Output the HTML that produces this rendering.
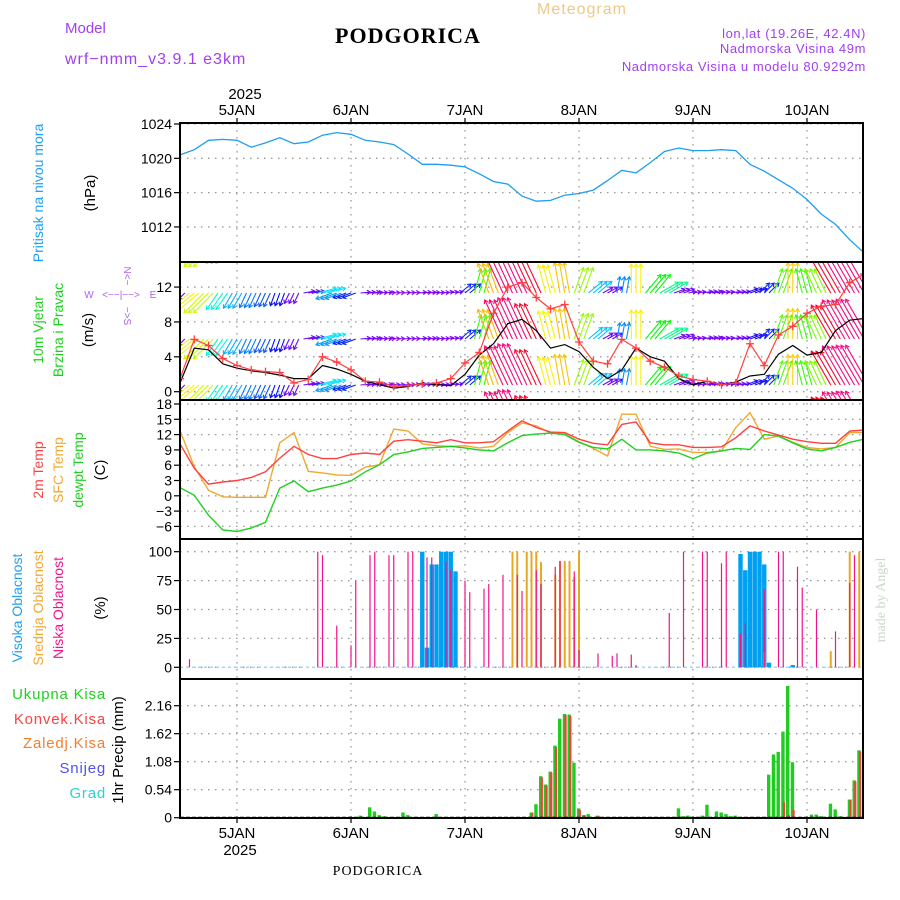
<!DOCTYPE html>
<html><head><meta charset="utf-8"><style>
html,body{margin:0;padding:0;background:#fff;}
svg{display:block;font-family:"Liberation Sans",sans-serif;}
</style></head><body>
<svg id="chart" width="900" height="900" viewBox="0 0 900 900" xmlns="http://www.w3.org/2000/svg">
<defs>
<clipPath id="cw"><rect x="180" y="263" width="683" height="136"/></clipPath>
<clipPath id="cp"><rect x="180" y="678" width="684" height="140"/></clipPath>
</defs>
<g>
<text x="65" y="33" font-size="15" fill="#a040f0">Model</text>
<text x="65" y="64" font-size="16" fill="#a040f0" letter-spacing="1">wrf−nmm_v3.9.1  e3km</text>
<text x="408" y="43" font-size="22" font-weight="bold" font-family="Liberation Serif,serif" text-anchor="middle" letter-spacing="1">PODGORICA</text>
<text x="582" y="14" font-size="16" fill="#f0c888" text-anchor="middle" letter-spacing="1">Meteogram</text>
<text x="866" y="38" font-size="13" fill="#a040f0" text-anchor="end" letter-spacing="0.6">lon,lat (19.26E, 42.4N)</text>
<text x="866" y="53" font-size="13" fill="#a040f0" text-anchor="end" letter-spacing="0.6">Nadmorska Visina 49m</text>
<text x="866" y="71" font-size="13" fill="#a040f0" text-anchor="end" letter-spacing="0.6">Nadmorska Visina u modelu 80.9292m</text>
<text x="245" y="99" font-size="15" text-anchor="middle">2025</text>
<text x="378" y="875" font-size="14" font-family="Liberation Serif,serif" text-anchor="middle" letter-spacing="1">PODGORICA</text>
<text x="240" y="855" font-size="15" text-anchor="middle">2025</text>
<text transform="translate(885,600) rotate(-90)" font-size="14" fill="#c8d8c8" font-family="Liberation Serif,serif" text-anchor="middle">made by Angel</text>
</g>
<g>
<text transform="translate(43,193) rotate(-90)" font-size="14" fill="#20a0f0" text-anchor="middle">Pritisak  na  nivou  mora</text>
<text transform="translate(95,193) rotate(-90)" font-size="15" text-anchor="middle">(hPa)</text>
<text transform="translate(43,330) rotate(-90)" font-size="14" fill="#20d020" text-anchor="middle">10m  Vjetar</text>
<text transform="translate(63,330) rotate(-90)" font-size="14" fill="#20d020" text-anchor="middle">Brzina  i  Pravac</text>
<text transform="translate(93,330) rotate(-90)" font-size="15" text-anchor="middle">(m/s)</text>
<g font-size="10" fill="#b060f0" text-anchor="middle">
<text x="89" y="298">W</text><text x="153" y="298">E</text>
<text x="121" y="298">&lt;−−|−−&gt;</text>
<text transform="translate(124,276) rotate(90)">N&lt;−</text>
<text transform="translate(124,316) rotate(90)">−&gt;S</text>
</g>
<text transform="translate(43,470) rotate(-90)" font-size="14" fill="#ff4040" text-anchor="middle">2m  Temp</text>
<text transform="translate(63,470) rotate(-90)" font-size="14" fill="#f0a830" text-anchor="middle">SFC  Temp</text>
<text transform="translate(83,470) rotate(-90)" font-size="14" fill="#20d020" text-anchor="middle">dewpt  Temp</text>
<text transform="translate(105,470) rotate(-90)" font-size="15" text-anchor="middle">(C)</text>
<text transform="translate(22,608) rotate(-90)" font-size="14" fill="#20a0f0" text-anchor="middle">Visoka  Oblacnost</text>
<text transform="translate(43,608) rotate(-90)" font-size="14" fill="#f0a830" text-anchor="middle">Srednja  Oblacnost</text>
<text transform="translate(63,608) rotate(-90)" font-size="14" fill="#f0148c" text-anchor="middle">Niska  Oblacnost</text>
<text transform="translate(105,608) rotate(-90)" font-size="15" text-anchor="middle">(%)</text>
<g font-size="15" text-anchor="end" letter-spacing="0.8">
<text x="106" y="699" fill="#20d020">Ukupna  Kisa</text>
<text x="106" y="724" fill="#ff4040">Konvek.Kisa</text>
<text x="106" y="748" fill="#f08030">Zaledj.Kisa</text>
<text x="106" y="773" fill="#5050f0">Snijeg</text>
<text x="106" y="798" fill="#30d0d0">Grad</text>
</g>
<text transform="translate(123,750) rotate(-90)" font-size="15" text-anchor="middle">1hr Precip (mm)</text>
</g>
<g id="grid"></g>
<g id="marks"></g>
<g id="frame"></g>
</svg>
<script>
// ---- data (3-hourly, starting 4 JAN 12 UTC) ----
const dayLabels = ["5JAN","6JAN","7JAN","8JAN","9JAN","10JAN"];
const dayHours = [12,36,60,84,108,132];
const pressure = [1020.4,1021.0,1022.1,1022.2,1022.1,1021.3,1021.8,1022.4,1021.7,1021.9,1022.7,1023.0,1022.8,1022.1,1021.9,1021.6,1020.5,1019.3,1019.3,1019.2,1019.0,1018.2,1017.3,1017.0,1015.6,1015.0,1015.1,1015.7,1015.9,1016.3,1017.4,1018.6,1018.3,1019.5,1020.8,1021.2,1020.9,1020.9,1021.0,1020.9,1019.3,1018.5,1017.5,1016.5,1015.2,1013.5,1012.3,1010.5,1009.0];
const pressureTicks = [1012,1016,1020,1024];
const windSpeed = [1.0,5.0,4.8,3.2,2.7,2.4,2.2,1.9,1.5,1.5,3.0,2.6,2.0,1.2,0.8,0.4,0.6,1.0,0.8,0.7,2.0,4.2,5.5,7.8,8.3,7.0,5.0,5.4,4.6,2.8,1.5,2.5,5.0,4.0,3.5,1.5,0.8,1.2,0.8,1.1,1.8,2.0,4.3,5.3,4.2,4.5,7.0,8.2,8.4];
const windGust = [1.5,6.0,5.3,3.8,3.0,2.5,2.3,2.2,1.0,1.4,4.0,3.4,2.5,1.2,1.1,0.6,0.7,0.9,1.0,1.5,3.3,4.5,9.0,12.0,12.5,10.8,9.5,10.0,5.7,3.5,3.2,6.0,5.0,3.5,2.8,1.8,1.4,1.2,0.8,1.0,5.5,3.0,6.5,7.5,9.0,9.8,10.0,12.5,13.5];
const windDir = [225,220,225,235,240,245,245,250,245,10,15,200,200,5,5,5,5,5,5,10,40,75,110,115,115,115,105,100,70,40,30,80,90,50,30,20,10,10,10,10,20,45,70,90,105,115,120,120,120];
const windTicks = [0,4,8,12];
const temp2m = [10.2,5.4,2.3,2.7,3.0,3.6,4.7,7.4,9.7,8.1,7.3,7.3,8.1,8.4,8.1,10.7,11.0,10.7,10.4,11.0,10.4,10.4,10.6,12.7,14.7,13.4,12.5,12.4,11.1,10.3,10.0,14.0,14.5,10.4,10.0,10.0,9.5,9.5,9.6,11.4,13.7,12.7,11.9,11.1,10.6,10.3,10.3,12.7,12.9];
const tempSfc = [12.8,5.7,1.1,-0.2,-0.3,-0.3,-0.3,10.4,12.4,4.8,4.5,4.1,4.0,5.6,6.1,13.1,12.7,10.2,9.8,9.7,9.8,9.4,9.7,12.4,14.3,13.7,12.3,12.1,10.6,9.3,7.8,16.0,16.0,9.7,9.1,9.2,8.5,8.5,8.8,13.4,16.3,11.1,11.7,10.5,9.5,9.2,9.5,12.4,12.4];
const tempDew = [1.6,0.1,-3.8,-6.7,-7.0,-6.3,-5.2,1.5,2.9,0.8,1.5,2.1,2.9,4.7,6.1,8.1,8.6,9.3,9.5,9.7,9.4,9.0,8.8,10.4,11.8,12.1,12.3,12.0,10.5,9.5,9.2,11.1,9.0,9.0,8.8,8.4,7.3,8.4,8.8,9.3,9.1,12.0,11.7,10.4,9.2,8.8,9.5,10.5,11.1];
const tempTicks = [-6,-3,0,3,6,9,12,15,18];
// cloud cover (hour index, %)
const lowCloudHours = [2,29,30,33,36,37,40,41,44,45,48,49,52,53,56,57,60,61,64,65,68,71,72,75,76,79,80,83,84,88,91,92,95,96,103,106,110,111,114,115,118,119,123,126,127,130,131,134,138,141,142];
const lowCloud = [7,100,97,36,19,75,97,100,97,97,100,100,95,95,91,84,75,65,68,72,80,80,66,84,72,87,92,83,15,12,10,12,11,2,47,100,100,100,90,100,29,38,67,100,100,87,69,50,31,73,97];
const midCloudHours = [70,71,73,74,75,76,79,80,81,82,83,84,123,137,141,143];
const midCloud = [100,100,100,100,100,91,80,92,92,92,78,100,13,14,100,100];
const highCloudHours = [51,52,53,54,55,56,57,58,118,119,120,121,122,123,124,129];
const highCloud = [100,17,89,89,100,100,100,83,98,84,100,100,100,89,4,2];
const cloudTicks = [0,25,50,75,100];
// hourly precipitation (hour index, mm)
const precipHours = [30,36,38,40,41,42,43,47,48,54,74,75,76,77,78,79,80,81,82,83,84,85,86,88,105,106,107,110,111,113,114,115,116,117,124,125,126,127,128,129,133,134,135,137,138,139,141,142,143,144];
const precipTotal = [0.01,0.02,0.04,0.2,0.12,0.05,0.03,0.1,0.05,0.07,0.1,0.26,0.8,0.64,0.89,1.39,1.91,2.0,1.99,1.06,0.18,0.05,0.07,0.04,0.18,0.03,0.04,0.04,0.25,0.12,0.1,0.07,0.03,0.04,0.83,1.22,1.27,1.66,2.54,1.07,0.06,0.06,0.03,0.27,0.16,0.03,0.35,0.72,1.3,1.63];
const precipConv = [0,0,0,0,0,0,0,0,0,0,0.1,0,0.78,0.62,0.87,1.36,0,1.98,1.96,0,0.15,0.05,0,0.03,0,0,0,0,0,0,0,0,0,0,0,0,0,0.3,0.05,0.15,0,0,0,0,0,0,0.35,0.7,1.28,1.63];
const precipTicks = [0,0.54,1.08,1.62,2.16];

// ---- scales ----
const X0 = 180, X1 = 864, HOURS = 144;
function xh(h){ return X0 + h*(X1-X0)/HOURS; }
function x3(i){ return xh(i*3); }
function yP(v){ return 124 + (1024-v)*8.58; }
function yW(v){ return 391.7 - v*8.72; }
function yT(v){ return 404 + (18-v)*5.1; }
function yC(v){ return 667.3 - v*1.156; }
function yR(v){ return 817.7 - v*51.85; }
const panels = [[123,262],[262,400],[400,539],[539,679],[679,818]];

const NS = "http://www.w3.org/2000/svg";
function el(tag, attrs, parent){
  const e = document.createElementNS(NS, tag);
  for (const k in attrs) e.setAttribute(k, attrs[k]);
  parent.appendChild(e);
  return e;
}
const grid = document.getElementById('grid');
const marks = document.getElementById('marks');
const frame = document.getElementById('frame');

dayHours.forEach((h,i)=>{
  const x = xh(h);
  const g = el('line',{x1:x,x2:x,y1:123,y2:818,stroke:'#999','stroke-width':1.3,'stroke-dasharray':'1.5,5.5'},grid);
  
  
  const t = el('text',{x:x,y:115,'font-size':15,'text-anchor':'middle'},grid);
  t.textContent = dayLabels[i];
  
  
  const b = el('text',{x:x,y:838,'font-size':15,'text-anchor':'middle'},grid);
  b.textContent = dayLabels[i];
  
  
});
function hgrid(ticks, yf, name){
  ticks.forEach(v=>{
    const y = yf(v);
    const l = el('line',{x1:X0,x2:X1,y1:y,y2:y,stroke:'#999','stroke-width':1.3,'stroke-dasharray':'1.5,5.5'},grid);
    
    
    const tk = el('line',{x1:X0-6,x2:X0,y1:y,y2:y,stroke:'#000','stroke-width':1.2},grid);
    
    
    const t = el('text',{x:X0-8,y:y+5,'font-size':14,'text-anchor':'end'},grid);
    t.textContent = v<0 ? '−'+Math.abs(v) : String(v);
    
    
  });
}
hgrid(pressureTicks, yP, 'pressure');
hgrid(windTicks, yW, 'wind');
hgrid(tempTicks, yT, 'temp');
hgrid(cloudTicks, yC, 'cloud');
hgrid(precipTicks, yR, 'precip');

function pathOf(arr, yf){
  return arr.map((v,i)=>(i?'L':'M')+x3(i).toFixed(1)+','+yf(v).toFixed(1)).join(' ');
}
const pl = el('path',{d:pathOf(pressure,yP),fill:'none',stroke:'#1e9ef0','stroke-width':1.3},marks);



// wind arrows (colour by speed), repeated rows; each sample drawn as a small fan of 3 arrows
const wg = el('g',{'clip-path':'url(#cw)'},marks);


function speedColor(s){
  const stops=[[0,275],[1.5,265],[2.2,220],[3,185],[4,120],[5,58],[6,30],[7,350],[8,330]];
  let h=330;
  for(let k=0;k<stops.length-1;k++){
    if(s>=stops[k][0]&&s<stops[k+1][0]){const f=(s-stops[k][0])/(stops[k+1][0]-stops[k][0]);let a=stops[k][1],b=stops[k+1][1];if(b>a+180)b-=360;h=a+(b-a)*f;break;}
  }
  return 'hsl('+((h+360)%360)+',95%,50%)';
}
const rowBases = [247,293,339,385,431];
const fanOffsets = [-1,0,1];
rowBases.forEach(base=>{
  windSpeed.forEach((s,i)=>{
    const L = 4 + s*5;
    const a = windDir[i]*Math.PI/180;
    const c = speedColor(s);
    fanOffsets.forEach(o=>{
      const x = xh(i*3+o), dx = Math.cos(a)*L, dy = -Math.sin(a)*L;
      const ln = el('path',{d:'M'+x.toFixed(1)+','+base+' l'+dx.toFixed(1)+','+dy.toFixed(1),stroke:c,'stroke-width':1.1,fill:'none'},wg);
      
      
      const tx=x+dx, ty=base+dy, ha=4;
      const h1=a+Math.PI*0.82, h2=a-Math.PI*0.82;
      const hd = el('path',{d:'M'+(tx+Math.cos(h1)*ha).toFixed(1)+','+(ty-Math.sin(h1)*ha).toFixed(1)+' L'+tx.toFixed(1)+','+ty.toFixed(1)+' L'+(tx+Math.cos(h2)*ha).toFixed(1)+','+(ty-Math.sin(h2)*ha).toFixed(1),stroke:c,'stroke-width':1.1,fill:'none'},wg);
      
      
    });
  });
});
const sl = el('path',{d:pathOf(windSpeed,yW),fill:'none',stroke:'#000','stroke-width':1.2,'clip-path':'url(#cw)'},marks);


const gl = el('path',{d:pathOf(windGust,yW),fill:'none',stroke:'#ff4040','stroke-width':1.2,'clip-path':'url(#cw)'},marks);


windGust.forEach((v,i)=>{
  const x=x3(i), y=yW(v);
  const m = el('path',{d:'M'+(x-4)+','+y+' h8 M'+x+','+(y-4)+' v8',stroke:'#ff4040','stroke-width':1.3,'clip-path':'url(#cw)'},marks);
  
  
});

[[tempSfc,'#f0a830','sfc-temp-line'],[temp2m,'#ff4040','temp-2m-line'],[tempDew,'#20d020','dewpoint-line']].forEach(s=>{
  const p = el('path',{d:pathOf(s[0],yT),fill:'none',stroke:s[1],'stroke-width':1.4},marks);
  
  
});

const zl = el('line',{x1:X0,x2:X1,y1:yC(0),y2:yC(0),stroke:'#a0d8f0','stroke-width':1.5,'stroke-dasharray':'3,3'},marks);


highCloud.forEach((v,i)=>{
  const x=xh(highCloudHours[i]);
  const r = el('rect',{x:x-2.2,y:yC(v),width:4.4,height:yC(0)-yC(v),fill:'#00a0f0'},marks);
  
  
});
midCloud.forEach((v,i)=>{
  const x=xh(midCloudHours[i]);
  const r = el('rect',{x:x-1,y:yC(v),width:2,height:yC(0)-yC(v),fill:'#e8a820'},marks);
  
  
});
lowCloud.forEach((v,i)=>{
  const x=xh(lowCloudHours[i]);
  const r = el('rect',{x:x-0.6,y:yC(v),width:1.2,height:yC(0)-yC(v),fill:'#f0148c'},marks);
  
  
});

const pg = el('g',{'clip-path':'url(#cp)'},marks);
precipTotal.forEach((v,i)=>{
  const x=xh(precipHours[i]);
  const r = el('rect',{x:x-2,y:yR(v),width:3.4,height:yR(0)-yR(v),fill:'#20cc20'},pg);
  
  
  const c = precipConv[i];
  if(c>0){
    const rc = el('rect',{x:x-0.3,y:yR(c),width:2.2,height:yR(0)-yR(c),fill:'#f04040'},pg);
    
    
  }
});
const pb = el('line',{x1:X0,x2:X1,y1:yR(0),y2:yR(0),stroke:'#000','stroke-width':2,'stroke-dasharray':'4,2'},marks);



panels.forEach((p,i)=>{
  const r = el('rect',{x:X0,y:p[0],width:X1-X0-1,height:p[1]-p[0],fill:'none',stroke:'#000','stroke-width':2},frame);
  
  
});
dayHours.forEach(h=>{
  const x=xh(h);
  const t1 = el('line',{x1:x,x2:x,y1:118,y2:123,stroke:'#000','stroke-width':1.2},frame);
  
  
  const t2 = el('line',{x1:x,x2:x,y1:818,y2:823,stroke:'#000','stroke-width':1.2},frame);
  
  
});
</script>
</body></html>
